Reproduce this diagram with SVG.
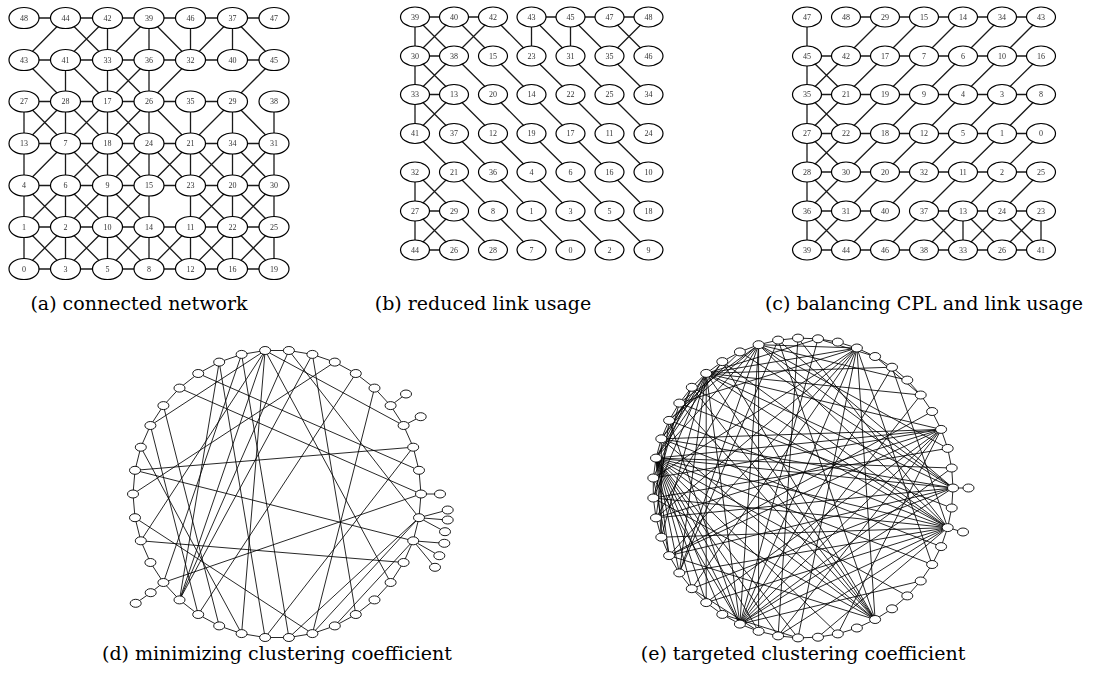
<svg xmlns="http://www.w3.org/2000/svg" width="1109" height="679" viewBox="0 0 1109 679">
<defs>
<filter id="gray" x="-2%" y="-2%" width="104%" height="104%"><feColorMatrix type="saturate" values="0"/></filter>
</defs>
<style>
.eg{stroke:#1a1a1a;stroke-width:1.3;fill:none}
.ec{stroke:#000;stroke-width:0.85;fill:none}
.n ellipse{fill:#fff;stroke:#000;stroke-width:1.2}
.n text{font-family:"Liberation Serif",serif;font-size:8px;text-anchor:middle;fill:#333}
.s ellipse{fill:#fff;stroke:#000;stroke-width:0.9}
.cap{font-family:"DejaVu Serif",serif;font-size:19px;text-anchor:middle;fill:#000}
</style>
<rect width="1109" height="679" fill="#fff"/>
<g id="connectors">
<path id="edges-a" class="eg" d="M24 18H274M24 60H274M24 101.5H232.5M24 143.5H274M24 185.5H274M24 227H274M24 269H274M24 101.5V269M65.5 60V269M107.5 18V269M149 18V269M190.5 18V60M190.5 101.5V269M232.5 18V60M232.5 101.5V269M274 101.5V269
M65.5 18L107.5 60M149 18L190.5 60M232.5 18L274 60M24 60L65.5 101.5M65.5 60L107.5 101.5M107.5 60L149 101.5M24 101.5L65.5 143.5M65.5 101.5L107.5 143.5M107.5 101.5L149 143.5M149 101.5L190.5 143.5M232.5 101.5L274 143.5M65.5 143.5L107.5 185.5M107.5 143.5L149 185.5M149 143.5L190.5 185.5M190.5 143.5L232.5 185.5M232.5 143.5L274 185.5M24 185.5L65.5 227M65.5 185.5L107.5 227M107.5 185.5L149 227M190.5 185.5L232.5 227M232.5 185.5L274 227M24 227L65.5 269M65.5 227L107.5 269M107.5 227L149 269M149 227L190.5 269M190.5 227L232.5 269M232.5 227L274 269
M65.5 18L24 60M107.5 18L65.5 60M149 18L107.5 60M232.5 18L190.5 60M149 60L107.5 101.5M190.5 60L149 101.5M274 60L232.5 101.5M65.5 101.5L24 143.5M107.5 101.5L65.5 143.5M149 101.5L107.5 143.5M232.5 101.5L190.5 143.5M65.5 143.5L24 185.5M107.5 143.5L65.5 185.5M149 143.5L107.5 185.5M190.5 143.5L149 185.5M232.5 143.5L190.5 185.5M274 143.5L232.5 185.5M65.5 185.5L24 227M107.5 185.5L65.5 227M149 185.5L107.5 227M232.5 185.5L190.5 227M274 185.5L232.5 227M65.5 227L24 269M107.5 227L65.5 269M149 227L107.5 269M190.5 227L149 269M232.5 227L190.5 269M274 227L232.5 269"/>
<path id="edges-b" class="eg" d="M415 17H493M531.5 17H648.5M415 56H454M415 94.5H454M415 211H454M415 250H454M415 17V133.5M531.5 17V56M570.5 17V56M415 172V250
M415 17L454 56M454 17L415 56M454 17L493 56M493 17L454 56M493 17L531.5 56M531.5 17L570.5 56M570.5 17L609.5 56M609.5 17L648.5 56M648.5 17L609.5 56
M415 56L454 94.5M454 56L415 94.5M454 56L493 94.5M493 56L531.5 94.5M531.5 56L570.5 94.5M570.5 56L609.5 94.5M609.5 56L648.5 94.5
M415 94.5L454 133.5M454 94.5L415 133.5M454 94.5L493 133.5M493 94.5L531.5 133.5M531.5 94.5L570.5 133.5M570.5 94.5L609.5 133.5M609.5 94.5L648.5 133.5
M415 133.5L454 172M454 133.5L493 172M493 133.5L531.5 172M531.5 133.5L570.5 172M570.5 133.5L609.5 172M609.5 133.5L648.5 172
M415 172L454 211M454 172L415 211M454 172L493 211M493 172L531.5 211M531.5 172L570.5 211M570.5 172L609.5 211M609.5 172L648.5 211
M415 211L454 250M454 211L415 250M454 211L493 250M493 211L531.5 250M531.5 211L570.5 250M570.5 211L609.5 250M609.5 211L648.5 250"/>
<path id="edges-c" class="eg" d="M846 17H1041M807 56H1041M807 94.5H1041M807 133.5H1041M807 172H1041M807 211H885M924 211H1041M807 250H1041M807 17V250M963 211V250M1041 211V250
M885 17L846 56L807 94.5M924 17L885 56L846 94.5L807 133.5M963 17L924 56L885 94.5L846 133.5L807 172M1002 17L963 56L924 94.5L885 133.5L846 172L807 211M1041 17L1002 56L963 94.5L924 133.5L885 172L846 211L807 250M1041 56L1002 94.5L963 133.5L924 172L885 211L846 250M1041 94.5L1002 133.5L963 172L924 211L885 250M1041 133.5L1002 172L963 211L924 250M1041 172L1002 211L963 250M1041 211L1002 250
M807 56L846 94.5M807 94.5L846 133.5M807 133.5L846 172M807 172L846 211M807 211L846 250M924 211L963 250M963 211L1002 250M1002 211L1041 250"/>
<polygon id="ring-d" class="ec" points="288.9,350.5 312.4,354.4 334.8,362.1 355.8,373.5 374.5,388.1 390.6,405.6 403.6,425.5 413.2,447.2 419,470.3 421,494 419,517.7 413.2,540.8 403.6,562.5 390.6,582.5 374.5,599.9 355.8,614.5 334.8,625.9 312.4,633.6 288.9,637.5 265.1,637.5 241.6,633.6 219.2,625.9 198.2,614.5 179.5,599.9 163.4,582.5 150.4,562.5 140.8,540.8 135,517.7 133,494 135,470.3 140.8,447.2 150.4,425.5 163.4,405.6 179.5,388.1 198.2,373.5 219.2,362.1 241.6,354.4 265.1,350.5"/>
<path id="edges-d" class="ec" d="M390.6 405.6L406 394M403.6 425.5L420.7 416.7M421 494L440 494M419 517.7L447.7 510M419 517.7L447.7 520M419 517.7L445 531.7M413.2 540.8L444.3 543.3M413.2 540.8L439.3 555.7M413.2 540.8L435 567.3M163.4 582.5L150.7 592.7L135.7 603.3
M265.1 350.5L150.4 425.5M334.8 362.1L133 494M219.2 362.1L179.5 599.9M219.2 362.1L265.1 637.5M241.6 354.4L288.9 637.5M265.1 350.5L140.8 540.8M265.1 350.5L179.5 599.9M265.1 350.5L241.6 633.6M265.1 350.5L390.6 582.5M265.1 350.5L403.6 425.5M179.5 388.1L421 494M135 470.3L413.2 447.2M135 470.3L413.2 540.8M140.8 540.8L403.6 562.5M163.4 582.5L421 494M140.8 447.2L241.6 633.6M135 517.7L312.4 633.6M374.5 388.1L312.4 633.6M288.9 350.5L179.5 599.9M312.4 354.4L355.8 614.5M288.9 350.5L419 517.7M312.4 633.6L419 517.7M288.9 637.5L419 517.7M334.8 625.9L413.2 540.8M265.1 637.5L413.2 447.2M355.8 373.5L198.2 614.5M163.4 405.6L219.2 625.9M241.6 354.4L163.4 582.5M150.4 425.5L198.2 614.5M312.4 354.4L179.5 599.9M198.2 373.5L419 470.3"/>
<polygon id="ring-e" class="ec" points="953,488 951.7,508 947.7,527.6 941.1,546.6 932.1,564.5 920.7,581 907.3,595.9 892,608.8 875.1,619.5 856.9,628 837.8,633.9 818,637.2 798,637.9 778.1,635.9 758.6,631.3 739.9,624.1 722.3,614.4 706.2,602.6 691.8,588.7 679.3,572.9 669.1,555.6 661.3,537.2 656,517.9 653.3,498 653.3,478 656,458.1 661.3,438.8 669.1,420.4 679.3,403.1 691.8,387.3 706.2,373.4 722.3,361.6 739.9,351.9 758.6,344.7 778.1,340.1 798,338.1 818,338.8 837.8,342.1 856.9,348 875.1,356.5 892,367.2 907.3,380.1 920.7,395 932.1,411.5 941.1,429.4 947.7,448.4 951.7,468"/>
<path id="edges-e" class="ec" d="M953 488L968.5 488M947.7 527.6L963 532
M656 458.1L953 488M656 458.1L947.7 527.6M656 458.1L932.1 564.5M656 458.1L907.3 595.9M656 458.1L875.1 619.5M656 458.1L837.8 633.9M656 458.1L798 637.9M656 458.1L778.1 635.9M656 458.1L758.6 631.3M656 458.1L739.9 624.1M656 458.1L722.3 614.4M656 458.1L706.2 602.6M656 458.1L691.8 588.7M656 458.1L679.3 572.9M656 458.1L669.1 555.6M656 458.1L661.3 537.2M656 458.1L691.8 387.3M656 458.1L706.2 373.4M656 458.1L722.3 361.6M656 458.1L758.6 344.7M656 458.1L941.1 429.4
M706.2 373.4L941.1 429.4M706.2 373.4L920.7 395M706.2 373.4L892 367.2M706.2 373.4L856.9 348M706.2 373.4L818 338.8M706.2 373.4L953 488M706.2 373.4L947.7 527.6M706.2 373.4L875.1 619.5M706.2 373.4L739.9 624.1M706.2 373.4L706.2 602.6M706.2 373.4L679.3 572.9M706.2 373.4L661.3 537.2M706.2 373.4L653.3 498M706.2 373.4L661.3 438.8
M758.6 344.7L856.9 348M758.6 344.7L907.3 380.1M758.6 344.7L947.7 448.4M758.6 344.7L947.7 527.6M758.6 344.7L953 488M758.6 344.7L758.6 631.3M758.6 344.7L739.9 624.1M758.6 344.7L679.3 572.9M758.6 344.7L656 517.9M758.6 344.7L669.1 420.4
M856.9 348L679.3 403.1M856.9 348L653.3 478M856.9 348L656 517.9M856.9 348L669.1 555.6M856.9 348L691.8 588.7M856.9 348L739.9 624.1M856.9 348L798 637.9M856.9 348L875.1 619.5M856.9 348L932.1 564.5
M941.1 429.4L661.3 438.8M941.1 429.4L653.3 478M941.1 429.4L656 517.9M941.1 429.4L669.1 555.6M941.1 429.4L706.2 602.6M941.1 429.4L739.9 624.1M941.1 429.4L778.1 635.9M941.1 429.4L837.8 633.9
M947.7 527.6L653.3 498M947.7 527.6L661.3 537.2M947.7 527.6L679.3 572.9M947.7 527.6L706.2 602.6M947.7 527.6L739.9 624.1M947.7 527.6L778.1 635.9M947.7 527.6L818 637.2M947.7 527.6L669.1 420.4M947.7 527.6L691.8 387.3M947.7 527.6L722.3 361.6M947.7 527.6L798 338.1M947.7 527.6L892 367.2
M953 488L661.3 438.8M953 488L656 517.9M953 488L669.1 555.6M953 488L691.8 588.7M953 488L739.9 624.1M953 488L739.9 351.9M953 488L778.1 340.1
M739.9 624.1L818 338.8M739.9 624.1L892 367.2M739.9 624.1L920.7 395M739.9 624.1L951.7 468M739.9 624.1L920.7 581M739.9 624.1L653.3 478M739.9 624.1L669.1 420.4
M875.1 619.5L691.8 387.3M875.1 619.5L722.3 361.6M875.1 619.5L778.1 340.1M875.1 619.5L669.1 555.6M875.1 619.5L653.3 498M875.1 619.5L661.3 438.8M875.1 619.5L679.3 403.1
M669.1 555.6L653.3 478M661.3 537.2L661.3 438.8M656 517.9L669.1 420.4M653.3 498L679.3 403.1M653.3 478L691.8 387.3M661.3 438.8L722.3 361.6M669.1 420.4L739.9 351.9M679.3 403.1L758.6 344.7M798 637.9L722.3 614.4M758.6 631.3L691.8 588.7M875.1 356.5L920.7 395M818 338.8L875.1 356.5
M778.1 340.1L679.3 572.9M798 338.1L778.1 635.9M932.1 411.5L669.1 555.6M947.7 448.4L653.3 498M951.7 468L656 458.1M951.7 508L679.3 403.1M941.1 546.6L661.3 438.8"/>
</g>
<g id="nodes-a" filter="url(#gray)">
<g id="a48" class="n"><ellipse cx="24" cy="18" rx="15" ry="10.5"/><text x="24" y="20.8">48</text></g>
<g id="a44" class="n"><ellipse cx="65.5" cy="18" rx="15" ry="10.5"/><text x="65.5" y="20.8">44</text></g>
<g id="a42" class="n"><ellipse cx="107.5" cy="18" rx="15" ry="10.5"/><text x="107.5" y="20.8">42</text></g>
<g id="a39" class="n"><ellipse cx="149" cy="18" rx="15" ry="10.5"/><text x="149" y="20.8">39</text></g>
<g id="a46" class="n"><ellipse cx="190.5" cy="18" rx="15" ry="10.5"/><text x="190.5" y="20.8">46</text></g>
<g id="a37" class="n"><ellipse cx="232.5" cy="18" rx="15" ry="10.5"/><text x="232.5" y="20.8">37</text></g>
<g id="a47" class="n"><ellipse cx="274" cy="18" rx="15" ry="10.5"/><text x="274" y="20.8">47</text></g>
<g id="a43" class="n"><ellipse cx="24" cy="60" rx="15" ry="10.5"/><text x="24" y="62.8">43</text></g>
<g id="a41" class="n"><ellipse cx="65.5" cy="60" rx="15" ry="10.5"/><text x="65.5" y="62.8">41</text></g>
<g id="a33" class="n"><ellipse cx="107.5" cy="60" rx="15" ry="10.5"/><text x="107.5" y="62.8">33</text></g>
<g id="a36" class="n"><ellipse cx="149" cy="60" rx="15" ry="10.5"/><text x="149" y="62.8">36</text></g>
<g id="a32" class="n"><ellipse cx="190.5" cy="60" rx="15" ry="10.5"/><text x="190.5" y="62.8">32</text></g>
<g id="a40" class="n"><ellipse cx="232.5" cy="60" rx="15" ry="10.5"/><text x="232.5" y="62.8">40</text></g>
<g id="a45" class="n"><ellipse cx="274" cy="60" rx="15" ry="10.5"/><text x="274" y="62.8">45</text></g>
<g id="a27" class="n"><ellipse cx="24" cy="101.5" rx="15" ry="10.5"/><text x="24" y="104.3">27</text></g>
<g id="a28" class="n"><ellipse cx="65.5" cy="101.5" rx="15" ry="10.5"/><text x="65.5" y="104.3">28</text></g>
<g id="a17" class="n"><ellipse cx="107.5" cy="101.5" rx="15" ry="10.5"/><text x="107.5" y="104.3">17</text></g>
<g id="a26" class="n"><ellipse cx="149" cy="101.5" rx="15" ry="10.5"/><text x="149" y="104.3">26</text></g>
<g id="a35" class="n"><ellipse cx="190.5" cy="101.5" rx="15" ry="10.5"/><text x="190.5" y="104.3">35</text></g>
<g id="a29" class="n"><ellipse cx="232.5" cy="101.5" rx="15" ry="10.5"/><text x="232.5" y="104.3">29</text></g>
<g id="a38" class="n"><ellipse cx="274" cy="101.5" rx="15" ry="10.5"/><text x="274" y="104.3">38</text></g>
<g id="a13" class="n"><ellipse cx="24" cy="143.5" rx="15" ry="10.5"/><text x="24" y="146.3">13</text></g>
<g id="a7" class="n"><ellipse cx="65.5" cy="143.5" rx="15" ry="10.5"/><text x="65.5" y="146.3">7</text></g>
<g id="a18" class="n"><ellipse cx="107.5" cy="143.5" rx="15" ry="10.5"/><text x="107.5" y="146.3">18</text></g>
<g id="a24" class="n"><ellipse cx="149" cy="143.5" rx="15" ry="10.5"/><text x="149" y="146.3">24</text></g>
<g id="a21" class="n"><ellipse cx="190.5" cy="143.5" rx="15" ry="10.5"/><text x="190.5" y="146.3">21</text></g>
<g id="a34" class="n"><ellipse cx="232.5" cy="143.5" rx="15" ry="10.5"/><text x="232.5" y="146.3">34</text></g>
<g id="a31" class="n"><ellipse cx="274" cy="143.5" rx="15" ry="10.5"/><text x="274" y="146.3">31</text></g>
<g id="a4" class="n"><ellipse cx="24" cy="185.5" rx="15" ry="10.5"/><text x="24" y="188.3">4</text></g>
<g id="a6" class="n"><ellipse cx="65.5" cy="185.5" rx="15" ry="10.5"/><text x="65.5" y="188.3">6</text></g>
<g id="a9" class="n"><ellipse cx="107.5" cy="185.5" rx="15" ry="10.5"/><text x="107.5" y="188.3">9</text></g>
<g id="a15" class="n"><ellipse cx="149" cy="185.5" rx="15" ry="10.5"/><text x="149" y="188.3">15</text></g>
<g id="a23" class="n"><ellipse cx="190.5" cy="185.5" rx="15" ry="10.5"/><text x="190.5" y="188.3">23</text></g>
<g id="a20" class="n"><ellipse cx="232.5" cy="185.5" rx="15" ry="10.5"/><text x="232.5" y="188.3">20</text></g>
<g id="a30" class="n"><ellipse cx="274" cy="185.5" rx="15" ry="10.5"/><text x="274" y="188.3">30</text></g>
<g id="a1" class="n"><ellipse cx="24" cy="227" rx="15" ry="10.5"/><text x="24" y="229.8">1</text></g>
<g id="a2" class="n"><ellipse cx="65.5" cy="227" rx="15" ry="10.5"/><text x="65.5" y="229.8">2</text></g>
<g id="a10" class="n"><ellipse cx="107.5" cy="227" rx="15" ry="10.5"/><text x="107.5" y="229.8">10</text></g>
<g id="a14" class="n"><ellipse cx="149" cy="227" rx="15" ry="10.5"/><text x="149" y="229.8">14</text></g>
<g id="a11" class="n"><ellipse cx="190.5" cy="227" rx="15" ry="10.5"/><text x="190.5" y="229.8">11</text></g>
<g id="a22" class="n"><ellipse cx="232.5" cy="227" rx="15" ry="10.5"/><text x="232.5" y="229.8">22</text></g>
<g id="a25" class="n"><ellipse cx="274" cy="227" rx="15" ry="10.5"/><text x="274" y="229.8">25</text></g>
<g id="a0" class="n"><ellipse cx="24" cy="269" rx="15" ry="10.5"/><text x="24" y="271.8">0</text></g>
<g id="a3" class="n"><ellipse cx="65.5" cy="269" rx="15" ry="10.5"/><text x="65.5" y="271.8">3</text></g>
<g id="a5" class="n"><ellipse cx="107.5" cy="269" rx="15" ry="10.5"/><text x="107.5" y="271.8">5</text></g>
<g id="a8" class="n"><ellipse cx="149" cy="269" rx="15" ry="10.5"/><text x="149" y="271.8">8</text></g>
<g id="a12" class="n"><ellipse cx="190.5" cy="269" rx="15" ry="10.5"/><text x="190.5" y="271.8">12</text></g>
<g id="a16" class="n"><ellipse cx="232.5" cy="269" rx="15" ry="10.5"/><text x="232.5" y="271.8">16</text></g>
<g id="a19" class="n"><ellipse cx="274" cy="269" rx="15" ry="10.5"/><text x="274" y="271.8">19</text></g>
</g>
<g id="nodes-b" filter="url(#gray)">
<g id="b39" class="n"><ellipse cx="415" cy="17" rx="14.5" ry="10"/><text x="415" y="19.8">39</text></g>
<g id="b40" class="n"><ellipse cx="454" cy="17" rx="14.5" ry="10"/><text x="454" y="19.8">40</text></g>
<g id="b42" class="n"><ellipse cx="493" cy="17" rx="14.5" ry="10"/><text x="493" y="19.8">42</text></g>
<g id="b43" class="n"><ellipse cx="531.5" cy="17" rx="14.5" ry="10"/><text x="531.5" y="19.8">43</text></g>
<g id="b45" class="n"><ellipse cx="570.5" cy="17" rx="14.5" ry="10"/><text x="570.5" y="19.8">45</text></g>
<g id="b47" class="n"><ellipse cx="609.5" cy="17" rx="14.5" ry="10"/><text x="609.5" y="19.8">47</text></g>
<g id="b48" class="n"><ellipse cx="648.5" cy="17" rx="14.5" ry="10"/><text x="648.5" y="19.8">48</text></g>
<g id="b30" class="n"><ellipse cx="415" cy="56" rx="14.5" ry="10"/><text x="415" y="58.8">30</text></g>
<g id="b38" class="n"><ellipse cx="454" cy="56" rx="14.5" ry="10"/><text x="454" y="58.8">38</text></g>
<g id="b15" class="n"><ellipse cx="493" cy="56" rx="14.5" ry="10"/><text x="493" y="58.8">15</text></g>
<g id="b23" class="n"><ellipse cx="531.5" cy="56" rx="14.5" ry="10"/><text x="531.5" y="58.8">23</text></g>
<g id="b31" class="n"><ellipse cx="570.5" cy="56" rx="14.5" ry="10"/><text x="570.5" y="58.8">31</text></g>
<g id="b35" class="n"><ellipse cx="609.5" cy="56" rx="14.5" ry="10"/><text x="609.5" y="58.8">35</text></g>
<g id="b46" class="n"><ellipse cx="648.5" cy="56" rx="14.5" ry="10"/><text x="648.5" y="58.8">46</text></g>
<g id="b33" class="n"><ellipse cx="415" cy="94.5" rx="14.5" ry="10"/><text x="415" y="97.3">33</text></g>
<g id="b13" class="n"><ellipse cx="454" cy="94.5" rx="14.5" ry="10"/><text x="454" y="97.3">13</text></g>
<g id="b20" class="n"><ellipse cx="493" cy="94.5" rx="14.5" ry="10"/><text x="493" y="97.3">20</text></g>
<g id="b14" class="n"><ellipse cx="531.5" cy="94.5" rx="14.5" ry="10"/><text x="531.5" y="97.3">14</text></g>
<g id="b22" class="n"><ellipse cx="570.5" cy="94.5" rx="14.5" ry="10"/><text x="570.5" y="97.3">22</text></g>
<g id="b25" class="n"><ellipse cx="609.5" cy="94.5" rx="14.5" ry="10"/><text x="609.5" y="97.3">25</text></g>
<g id="b34" class="n"><ellipse cx="648.5" cy="94.5" rx="14.5" ry="10"/><text x="648.5" y="97.3">34</text></g>
<g id="b41" class="n"><ellipse cx="415" cy="133.5" rx="14.5" ry="10"/><text x="415" y="136.3">41</text></g>
<g id="b37" class="n"><ellipse cx="454" cy="133.5" rx="14.5" ry="10"/><text x="454" y="136.3">37</text></g>
<g id="b12" class="n"><ellipse cx="493" cy="133.5" rx="14.5" ry="10"/><text x="493" y="136.3">12</text></g>
<g id="b19" class="n"><ellipse cx="531.5" cy="133.5" rx="14.5" ry="10"/><text x="531.5" y="136.3">19</text></g>
<g id="b17" class="n"><ellipse cx="570.5" cy="133.5" rx="14.5" ry="10"/><text x="570.5" y="136.3">17</text></g>
<g id="b11" class="n"><ellipse cx="609.5" cy="133.5" rx="14.5" ry="10"/><text x="609.5" y="136.3">11</text></g>
<g id="b24" class="n"><ellipse cx="648.5" cy="133.5" rx="14.5" ry="10"/><text x="648.5" y="136.3">24</text></g>
<g id="b32" class="n"><ellipse cx="415" cy="172" rx="14.5" ry="10"/><text x="415" y="174.8">32</text></g>
<g id="b21" class="n"><ellipse cx="454" cy="172" rx="14.5" ry="10"/><text x="454" y="174.8">21</text></g>
<g id="b36" class="n"><ellipse cx="493" cy="172" rx="14.5" ry="10"/><text x="493" y="174.8">36</text></g>
<g id="b4" class="n"><ellipse cx="531.5" cy="172" rx="14.5" ry="10"/><text x="531.5" y="174.8">4</text></g>
<g id="b6" class="n"><ellipse cx="570.5" cy="172" rx="14.5" ry="10"/><text x="570.5" y="174.8">6</text></g>
<g id="b16" class="n"><ellipse cx="609.5" cy="172" rx="14.5" ry="10"/><text x="609.5" y="174.8">16</text></g>
<g id="b10" class="n"><ellipse cx="648.5" cy="172" rx="14.5" ry="10"/><text x="648.5" y="174.8">10</text></g>
<g id="b27" class="n"><ellipse cx="415" cy="211" rx="14.5" ry="10"/><text x="415" y="213.8">27</text></g>
<g id="b29" class="n"><ellipse cx="454" cy="211" rx="14.5" ry="10"/><text x="454" y="213.8">29</text></g>
<g id="b8" class="n"><ellipse cx="493" cy="211" rx="14.5" ry="10"/><text x="493" y="213.8">8</text></g>
<g id="b1" class="n"><ellipse cx="531.5" cy="211" rx="14.5" ry="10"/><text x="531.5" y="213.8">1</text></g>
<g id="b3" class="n"><ellipse cx="570.5" cy="211" rx="14.5" ry="10"/><text x="570.5" y="213.8">3</text></g>
<g id="b5" class="n"><ellipse cx="609.5" cy="211" rx="14.5" ry="10"/><text x="609.5" y="213.8">5</text></g>
<g id="b18" class="n"><ellipse cx="648.5" cy="211" rx="14.5" ry="10"/><text x="648.5" y="213.8">18</text></g>
<g id="b44" class="n"><ellipse cx="415" cy="250" rx="14.5" ry="10"/><text x="415" y="252.8">44</text></g>
<g id="b26" class="n"><ellipse cx="454" cy="250" rx="14.5" ry="10"/><text x="454" y="252.8">26</text></g>
<g id="b28" class="n"><ellipse cx="493" cy="250" rx="14.5" ry="10"/><text x="493" y="252.8">28</text></g>
<g id="b7" class="n"><ellipse cx="531.5" cy="250" rx="14.5" ry="10"/><text x="531.5" y="252.8">7</text></g>
<g id="b0" class="n"><ellipse cx="570.5" cy="250" rx="14.5" ry="10"/><text x="570.5" y="252.8">0</text></g>
<g id="b2" class="n"><ellipse cx="609.5" cy="250" rx="14.5" ry="10"/><text x="609.5" y="252.8">2</text></g>
<g id="b9" class="n"><ellipse cx="648.5" cy="250" rx="14.5" ry="10"/><text x="648.5" y="252.8">9</text></g>
</g>
<g id="nodes-c" filter="url(#gray)">
<g id="c47" class="n"><ellipse cx="807" cy="17" rx="14.5" ry="10"/><text x="807" y="19.8">47</text></g>
<g id="c48" class="n"><ellipse cx="846" cy="17" rx="14.5" ry="10"/><text x="846" y="19.8">48</text></g>
<g id="c29" class="n"><ellipse cx="885" cy="17" rx="14.5" ry="10"/><text x="885" y="19.8">29</text></g>
<g id="c15" class="n"><ellipse cx="924" cy="17" rx="14.5" ry="10"/><text x="924" y="19.8">15</text></g>
<g id="c14" class="n"><ellipse cx="963" cy="17" rx="14.5" ry="10"/><text x="963" y="19.8">14</text></g>
<g id="c34" class="n"><ellipse cx="1002" cy="17" rx="14.5" ry="10"/><text x="1002" y="19.8">34</text></g>
<g id="c43" class="n"><ellipse cx="1041" cy="17" rx="14.5" ry="10"/><text x="1041" y="19.8">43</text></g>
<g id="c45" class="n"><ellipse cx="807" cy="56" rx="14.5" ry="10"/><text x="807" y="58.8">45</text></g>
<g id="c42" class="n"><ellipse cx="846" cy="56" rx="14.5" ry="10"/><text x="846" y="58.8">42</text></g>
<g id="c17" class="n"><ellipse cx="885" cy="56" rx="14.5" ry="10"/><text x="885" y="58.8">17</text></g>
<g id="c7" class="n"><ellipse cx="924" cy="56" rx="14.5" ry="10"/><text x="924" y="58.8">7</text></g>
<g id="c6" class="n"><ellipse cx="963" cy="56" rx="14.5" ry="10"/><text x="963" y="58.8">6</text></g>
<g id="c10" class="n"><ellipse cx="1002" cy="56" rx="14.5" ry="10"/><text x="1002" y="58.8">10</text></g>
<g id="c16" class="n"><ellipse cx="1041" cy="56" rx="14.5" ry="10"/><text x="1041" y="58.8">16</text></g>
<g id="c35" class="n"><ellipse cx="807" cy="94.5" rx="14.5" ry="10"/><text x="807" y="97.3">35</text></g>
<g id="c21" class="n"><ellipse cx="846" cy="94.5" rx="14.5" ry="10"/><text x="846" y="97.3">21</text></g>
<g id="c19" class="n"><ellipse cx="885" cy="94.5" rx="14.5" ry="10"/><text x="885" y="97.3">19</text></g>
<g id="c9" class="n"><ellipse cx="924" cy="94.5" rx="14.5" ry="10"/><text x="924" y="97.3">9</text></g>
<g id="c4" class="n"><ellipse cx="963" cy="94.5" rx="14.5" ry="10"/><text x="963" y="97.3">4</text></g>
<g id="c3" class="n"><ellipse cx="1002" cy="94.5" rx="14.5" ry="10"/><text x="1002" y="97.3">3</text></g>
<g id="c8" class="n"><ellipse cx="1041" cy="94.5" rx="14.5" ry="10"/><text x="1041" y="97.3">8</text></g>
<g id="c27" class="n"><ellipse cx="807" cy="133.5" rx="14.5" ry="10"/><text x="807" y="136.3">27</text></g>
<g id="c22" class="n"><ellipse cx="846" cy="133.5" rx="14.5" ry="10"/><text x="846" y="136.3">22</text></g>
<g id="c18" class="n"><ellipse cx="885" cy="133.5" rx="14.5" ry="10"/><text x="885" y="136.3">18</text></g>
<g id="c12" class="n"><ellipse cx="924" cy="133.5" rx="14.5" ry="10"/><text x="924" y="136.3">12</text></g>
<g id="c5" class="n"><ellipse cx="963" cy="133.5" rx="14.5" ry="10"/><text x="963" y="136.3">5</text></g>
<g id="c1" class="n"><ellipse cx="1002" cy="133.5" rx="14.5" ry="10"/><text x="1002" y="136.3">1</text></g>
<g id="c0" class="n"><ellipse cx="1041" cy="133.5" rx="14.5" ry="10"/><text x="1041" y="136.3">0</text></g>
<g id="c28" class="n"><ellipse cx="807" cy="172" rx="14.5" ry="10"/><text x="807" y="174.8">28</text></g>
<g id="c30" class="n"><ellipse cx="846" cy="172" rx="14.5" ry="10"/><text x="846" y="174.8">30</text></g>
<g id="c20" class="n"><ellipse cx="885" cy="172" rx="14.5" ry="10"/><text x="885" y="174.8">20</text></g>
<g id="c32" class="n"><ellipse cx="924" cy="172" rx="14.5" ry="10"/><text x="924" y="174.8">32</text></g>
<g id="c11" class="n"><ellipse cx="963" cy="172" rx="14.5" ry="10"/><text x="963" y="174.8">11</text></g>
<g id="c2" class="n"><ellipse cx="1002" cy="172" rx="14.5" ry="10"/><text x="1002" y="174.8">2</text></g>
<g id="c25" class="n"><ellipse cx="1041" cy="172" rx="14.5" ry="10"/><text x="1041" y="174.8">25</text></g>
<g id="c36" class="n"><ellipse cx="807" cy="211" rx="14.5" ry="10"/><text x="807" y="213.8">36</text></g>
<g id="c31" class="n"><ellipse cx="846" cy="211" rx="14.5" ry="10"/><text x="846" y="213.8">31</text></g>
<g id="c40" class="n"><ellipse cx="885" cy="211" rx="14.5" ry="10"/><text x="885" y="213.8">40</text></g>
<g id="c37" class="n"><ellipse cx="924" cy="211" rx="14.5" ry="10"/><text x="924" y="213.8">37</text></g>
<g id="c13" class="n"><ellipse cx="963" cy="211" rx="14.5" ry="10"/><text x="963" y="213.8">13</text></g>
<g id="c24" class="n"><ellipse cx="1002" cy="211" rx="14.5" ry="10"/><text x="1002" y="213.8">24</text></g>
<g id="c23" class="n"><ellipse cx="1041" cy="211" rx="14.5" ry="10"/><text x="1041" y="213.8">23</text></g>
<g id="c39" class="n"><ellipse cx="807" cy="250" rx="14.5" ry="10"/><text x="807" y="252.8">39</text></g>
<g id="c44" class="n"><ellipse cx="846" cy="250" rx="14.5" ry="10"/><text x="846" y="252.8">44</text></g>
<g id="c46" class="n"><ellipse cx="885" cy="250" rx="14.5" ry="10"/><text x="885" y="252.8">46</text></g>
<g id="c38" class="n"><ellipse cx="924" cy="250" rx="14.5" ry="10"/><text x="924" y="252.8">38</text></g>
<g id="c33" class="n"><ellipse cx="963" cy="250" rx="14.5" ry="10"/><text x="963" y="252.8">33</text></g>
<g id="c26" class="n"><ellipse cx="1002" cy="250" rx="14.5" ry="10"/><text x="1002" y="252.8">26</text></g>
<g id="c41" class="n"><ellipse cx="1041" cy="250" rx="14.5" ry="10"/><text x="1041" y="252.8">41</text></g>
</g>
<g id="nodes-d">
<g id="d-r0" class="s"><ellipse cx="288.9" cy="350.5" rx="5.5" ry="4"/></g>
<g id="d-r1" class="s"><ellipse cx="312.4" cy="354.4" rx="5.5" ry="4"/></g>
<g id="d-r2" class="s"><ellipse cx="334.8" cy="362.1" rx="5.5" ry="4"/></g>
<g id="d-r3" class="s"><ellipse cx="355.8" cy="373.5" rx="5.5" ry="4"/></g>
<g id="d-r4" class="s"><ellipse cx="374.5" cy="388.1" rx="5.5" ry="4"/></g>
<g id="d-r5" class="s"><ellipse cx="390.6" cy="405.6" rx="5.5" ry="4"/></g>
<g id="d-r6" class="s"><ellipse cx="403.6" cy="425.5" rx="5.5" ry="4"/></g>
<g id="d-r7" class="s"><ellipse cx="413.2" cy="447.2" rx="5.5" ry="4"/></g>
<g id="d-r8" class="s"><ellipse cx="419" cy="470.3" rx="5.5" ry="4"/></g>
<g id="d-r9" class="s"><ellipse cx="421" cy="494" rx="5.5" ry="4"/></g>
<g id="d-r10" class="s"><ellipse cx="419" cy="517.7" rx="5.5" ry="4"/></g>
<g id="d-r11" class="s"><ellipse cx="413.2" cy="540.8" rx="5.5" ry="4"/></g>
<g id="d-r12" class="s"><ellipse cx="403.6" cy="562.5" rx="5.5" ry="4"/></g>
<g id="d-r13" class="s"><ellipse cx="390.6" cy="582.5" rx="5.5" ry="4"/></g>
<g id="d-r14" class="s"><ellipse cx="374.5" cy="599.9" rx="5.5" ry="4"/></g>
<g id="d-r15" class="s"><ellipse cx="355.8" cy="614.5" rx="5.5" ry="4"/></g>
<g id="d-r16" class="s"><ellipse cx="334.8" cy="625.9" rx="5.5" ry="4"/></g>
<g id="d-r17" class="s"><ellipse cx="312.4" cy="633.6" rx="5.5" ry="4"/></g>
<g id="d-r18" class="s"><ellipse cx="288.9" cy="637.5" rx="5.5" ry="4"/></g>
<g id="d-r19" class="s"><ellipse cx="265.1" cy="637.5" rx="5.5" ry="4"/></g>
<g id="d-r20" class="s"><ellipse cx="241.6" cy="633.6" rx="5.5" ry="4"/></g>
<g id="d-r21" class="s"><ellipse cx="219.2" cy="625.9" rx="5.5" ry="4"/></g>
<g id="d-r22" class="s"><ellipse cx="198.2" cy="614.5" rx="5.5" ry="4"/></g>
<g id="d-r23" class="s"><ellipse cx="179.5" cy="599.9" rx="5.5" ry="4"/></g>
<g id="d-r24" class="s"><ellipse cx="163.4" cy="582.5" rx="5.5" ry="4"/></g>
<g id="d-r25" class="s"><ellipse cx="150.4" cy="562.5" rx="5.5" ry="4"/></g>
<g id="d-r26" class="s"><ellipse cx="140.8" cy="540.8" rx="5.5" ry="4"/></g>
<g id="d-r27" class="s"><ellipse cx="135" cy="517.7" rx="5.5" ry="4"/></g>
<g id="d-r28" class="s"><ellipse cx="133" cy="494" rx="5.5" ry="4"/></g>
<g id="d-r29" class="s"><ellipse cx="135" cy="470.3" rx="5.5" ry="4"/></g>
<g id="d-r30" class="s"><ellipse cx="140.8" cy="447.2" rx="5.5" ry="4"/></g>
<g id="d-r31" class="s"><ellipse cx="150.4" cy="425.5" rx="5.5" ry="4"/></g>
<g id="d-r32" class="s"><ellipse cx="163.4" cy="405.6" rx="5.5" ry="4"/></g>
<g id="d-r33" class="s"><ellipse cx="179.5" cy="388.1" rx="5.5" ry="4"/></g>
<g id="d-r34" class="s"><ellipse cx="198.2" cy="373.5" rx="5.5" ry="4"/></g>
<g id="d-r35" class="s"><ellipse cx="219.2" cy="362.1" rx="5.5" ry="4"/></g>
<g id="d-r36" class="s"><ellipse cx="241.6" cy="354.4" rx="5.5" ry="4"/></g>
<g id="d-r37" class="s"><ellipse cx="265.1" cy="350.5" rx="5.5" ry="4"/></g>
<g id="d-p1" class="s"><ellipse cx="406" cy="394" rx="5.5" ry="4"/></g>
<g id="d-p2" class="s"><ellipse cx="420.7" cy="416.7" rx="5.5" ry="4"/></g>
<g id="d-p3" class="s"><ellipse cx="440" cy="494" rx="5.5" ry="4"/></g>
<g id="d-p4" class="s"><ellipse cx="447.7" cy="510" rx="5.5" ry="4"/></g>
<g id="d-p5" class="s"><ellipse cx="447.7" cy="520" rx="5.5" ry="4"/></g>
<g id="d-p6" class="s"><ellipse cx="445" cy="531.7" rx="5.5" ry="4"/></g>
<g id="d-p7" class="s"><ellipse cx="444.3" cy="543.3" rx="5.5" ry="4"/></g>
<g id="d-p8" class="s"><ellipse cx="439.3" cy="555.7" rx="5.5" ry="4"/></g>
<g id="d-p9" class="s"><ellipse cx="435" cy="567.3" rx="5.5" ry="4"/></g>
<g id="d-p10" class="s"><ellipse cx="150.7" cy="592.7" rx="5.5" ry="4"/></g>
<g id="d-p11" class="s"><ellipse cx="135.7" cy="603.3" rx="5.5" ry="4"/></g>
</g>
<g id="nodes-e">
<g id="e-r0" class="s"><ellipse cx="953" cy="488" rx="5.5" ry="4"/></g>
<g id="e-r1" class="s"><ellipse cx="951.7" cy="508" rx="5.5" ry="4"/></g>
<g id="e-r2" class="s"><ellipse cx="947.7" cy="527.6" rx="5.5" ry="4"/></g>
<g id="e-r3" class="s"><ellipse cx="941.1" cy="546.6" rx="5.5" ry="4"/></g>
<g id="e-r4" class="s"><ellipse cx="932.1" cy="564.5" rx="5.5" ry="4"/></g>
<g id="e-r5" class="s"><ellipse cx="920.7" cy="581" rx="5.5" ry="4"/></g>
<g id="e-r6" class="s"><ellipse cx="907.3" cy="595.9" rx="5.5" ry="4"/></g>
<g id="e-r7" class="s"><ellipse cx="892" cy="608.8" rx="5.5" ry="4"/></g>
<g id="e-r8" class="s"><ellipse cx="875.1" cy="619.5" rx="5.5" ry="4"/></g>
<g id="e-r9" class="s"><ellipse cx="856.9" cy="628" rx="5.5" ry="4"/></g>
<g id="e-r10" class="s"><ellipse cx="837.8" cy="633.9" rx="5.5" ry="4"/></g>
<g id="e-r11" class="s"><ellipse cx="818" cy="637.2" rx="5.5" ry="4"/></g>
<g id="e-r12" class="s"><ellipse cx="798" cy="637.9" rx="5.5" ry="4"/></g>
<g id="e-r13" class="s"><ellipse cx="778.1" cy="635.9" rx="5.5" ry="4"/></g>
<g id="e-r14" class="s"><ellipse cx="758.6" cy="631.3" rx="5.5" ry="4"/></g>
<g id="e-r15" class="s"><ellipse cx="739.9" cy="624.1" rx="5.5" ry="4"/></g>
<g id="e-r16" class="s"><ellipse cx="722.3" cy="614.4" rx="5.5" ry="4"/></g>
<g id="e-r17" class="s"><ellipse cx="706.2" cy="602.6" rx="5.5" ry="4"/></g>
<g id="e-r18" class="s"><ellipse cx="691.8" cy="588.7" rx="5.5" ry="4"/></g>
<g id="e-r19" class="s"><ellipse cx="679.3" cy="572.9" rx="5.5" ry="4"/></g>
<g id="e-r20" class="s"><ellipse cx="669.1" cy="555.6" rx="5.5" ry="4"/></g>
<g id="e-r21" class="s"><ellipse cx="661.3" cy="537.2" rx="5.5" ry="4"/></g>
<g id="e-r22" class="s"><ellipse cx="656" cy="517.9" rx="5.5" ry="4"/></g>
<g id="e-r23" class="s"><ellipse cx="653.3" cy="498" rx="5.5" ry="4"/></g>
<g id="e-r24" class="s"><ellipse cx="653.3" cy="478" rx="5.5" ry="4"/></g>
<g id="e-r25" class="s"><ellipse cx="656" cy="458.1" rx="5.5" ry="4"/></g>
<g id="e-r26" class="s"><ellipse cx="661.3" cy="438.8" rx="5.5" ry="4"/></g>
<g id="e-r27" class="s"><ellipse cx="669.1" cy="420.4" rx="5.5" ry="4"/></g>
<g id="e-r28" class="s"><ellipse cx="679.3" cy="403.1" rx="5.5" ry="4"/></g>
<g id="e-r29" class="s"><ellipse cx="691.8" cy="387.3" rx="5.5" ry="4"/></g>
<g id="e-r30" class="s"><ellipse cx="706.2" cy="373.4" rx="5.5" ry="4"/></g>
<g id="e-r31" class="s"><ellipse cx="722.3" cy="361.6" rx="5.5" ry="4"/></g>
<g id="e-r32" class="s"><ellipse cx="739.9" cy="351.9" rx="5.5" ry="4"/></g>
<g id="e-r33" class="s"><ellipse cx="758.6" cy="344.7" rx="5.5" ry="4"/></g>
<g id="e-r34" class="s"><ellipse cx="778.1" cy="340.1" rx="5.5" ry="4"/></g>
<g id="e-r35" class="s"><ellipse cx="798" cy="338.1" rx="5.5" ry="4"/></g>
<g id="e-r36" class="s"><ellipse cx="818" cy="338.8" rx="5.5" ry="4"/></g>
<g id="e-r37" class="s"><ellipse cx="837.8" cy="342.1" rx="5.5" ry="4"/></g>
<g id="e-r38" class="s"><ellipse cx="856.9" cy="348" rx="5.5" ry="4"/></g>
<g id="e-r39" class="s"><ellipse cx="875.1" cy="356.5" rx="5.5" ry="4"/></g>
<g id="e-r40" class="s"><ellipse cx="892" cy="367.2" rx="5.5" ry="4"/></g>
<g id="e-r41" class="s"><ellipse cx="907.3" cy="380.1" rx="5.5" ry="4"/></g>
<g id="e-r42" class="s"><ellipse cx="920.7" cy="395" rx="5.5" ry="4"/></g>
<g id="e-r43" class="s"><ellipse cx="932.1" cy="411.5" rx="5.5" ry="4"/></g>
<g id="e-r44" class="s"><ellipse cx="941.1" cy="429.4" rx="5.5" ry="4"/></g>
<g id="e-r45" class="s"><ellipse cx="947.7" cy="448.4" rx="5.5" ry="4"/></g>
<g id="e-r46" class="s"><ellipse cx="951.7" cy="468" rx="5.5" ry="4"/></g>
<g id="e-p1" class="s"><ellipse cx="968.5" cy="488" rx="5.5" ry="4"/></g>
<g id="e-p2" class="s"><ellipse cx="963" cy="532" rx="5.5" ry="4"/></g>
</g>
<g id="captions">
<text class="cap" x="139" y="310">(a) connected network</text>
<text class="cap" x="483" y="310">(b) reduced link usage</text>
<text class="cap" x="924" y="310">(c) balancing CPL and link usage</text>
<text class="cap" x="277" y="660">(d) minimizing clustering coefficient</text>
<text class="cap" x="803" y="660">(e) targeted clustering coefficient</text>
</g>
</svg>
